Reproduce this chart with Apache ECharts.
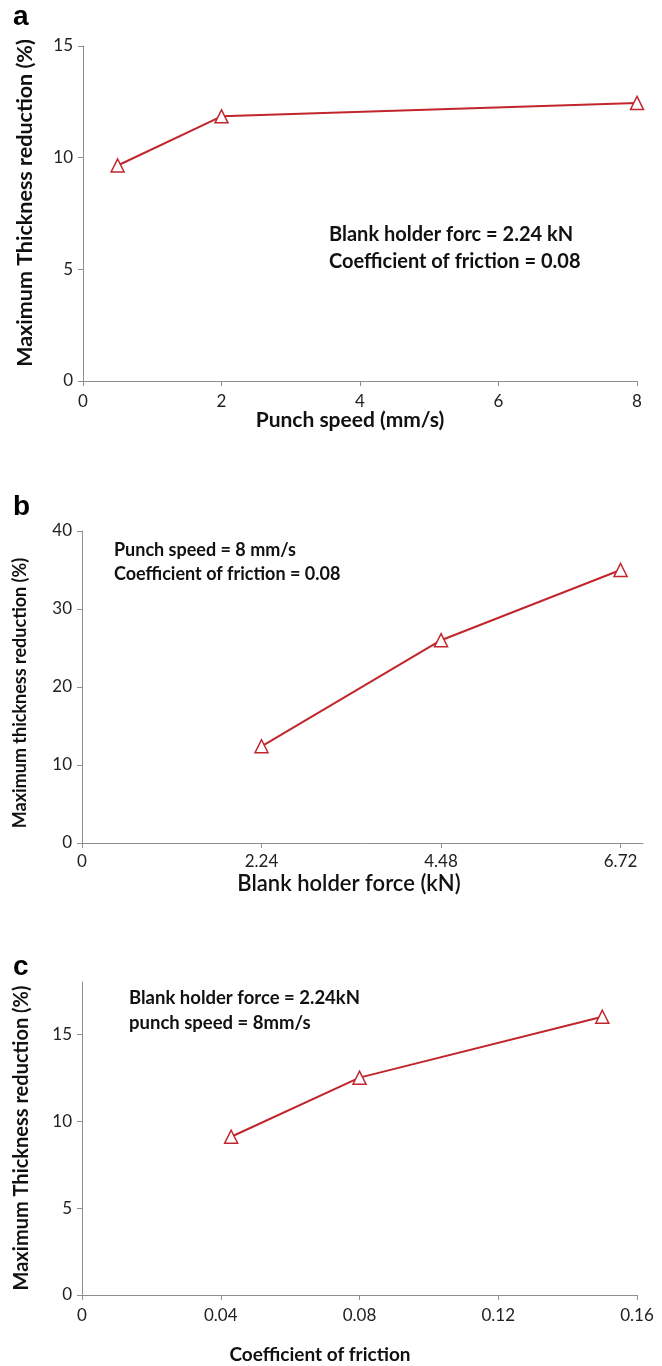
<!DOCTYPE html>
<html>
<head>
<meta charset="utf-8">
<script src="https://cdn.jsdelivr.net/npm/echarts@6/dist/echarts.min.js"></script>
<style>
  html, body { margin: 0; padding: 0; background: #fff; }
  #chart { width: 662px; height: 1366px; }
</style>
</head>
<body>
<div id="chart"></div>
<script>
// panel a: punch speed
const speedX = [0.5, 2, 8];
const speedY = [9.65, 11.85, 12.45];
// panel b: blank holder force
const forceX = [2.24, 4.48, 6.72];
const forceY = [12.4, 26, 35];
const forceTicks = [0, 2.24, 4.48, 6.72];
// panel c: coefficient of friction
const frictionX = [0.043, 0.08, 0.15];
const frictionY = [9.1, 12.5, 16];
const frictionYTicks = [0, 5, 10, 15];

const RED = '#c0262c';
const AXIS = '#8f8f8f';
const FONT = 'Lato, "Open Sans", sans-serif';

const pairs = (xs, ys) => xs.map((x, i) => [x, ys[i]]);

const axisBase = {
  type: 'value',
  axisLine: { show: true, lineStyle: { color: AXIS, width: 1 } },
  axisTick: { show: true, length: 5, lineStyle: { color: AXIS } },
  splitLine: { show: false },
  axisLabel: { color: '#222', fontSize: 17, fontFamily: FONT }
};

const xAx = (extra) => Object.assign({}, axisBase, extra,
  { axisLabel: Object.assign({}, axisBase.axisLabel, { margin: 12 }, extra.axisLabel || {}) });
const yAx = (extra) => Object.assign({}, axisBase, extra,
  { axisLabel: Object.assign({}, axisBase.axisLabel, { margin: 10 }, extra.axisLabel || {}) });

const lineSeries = (idx, data) => ({
  type: 'line',
  xAxisIndex: idx,
  yAxisIndex: idx,
  data: data,
  symbol: 'triangle',
  symbolSize: 13,
  lineStyle: { color: RED, width: 2 },
  itemStyle: { color: '#fff', borderColor: RED, borderWidth: 1.5 },
  animation: false
});

const txt = (x, y, text, size, opts) => Object.assign({
  type: 'text',
  x: x,
  y: y,
  style: Object.assign({
    text: text,
    fill: '#111',
    font: 'bold ' + size + 'px ' + FONT,
    textAlign: 'left',
    textVerticalAlign: 'middle'
  }, (opts && opts.style) || {})
}, opts ? { rotation: opts.rotation || 0 } : {});

const LETTER = 'bold 28px Arial, "Liberation Sans", sans-serif';

const chart = echarts.init(document.getElementById('chart'), null, { renderer: 'canvas' });

chart.setOption({
  backgroundColor: '#fff',
  animation: false,
  grid: [
    { left: 83, top: 46, width: 554, height: 335 },
    { left: 82, top: 531, width: 561, height: 312 },
    { left: 82, top: 982, width: 555, height: 313 }
  ],
  xAxis: [
    xAx({ gridIndex: 0, min: 0, max: 8, interval: 2 }),
    xAx({ gridIndex: 1, min: 0, max: 7,
      axisTick: { show: true, length: 5, lineStyle: { color: AXIS }, customValues: forceTicks },
      axisLabel: { customValues: forceTicks, margin: 10 } }),
    xAx({ gridIndex: 2, min: 0, max: 0.16, interval: 0.04 })
  ],
  yAxis: [
    yAx({ gridIndex: 0, min: 0, max: 15, interval: 5 }),
    yAx({ gridIndex: 1, min: 0, max: 40, interval: 10 }),
    yAx({ gridIndex: 2, min: 0, max: 18,
      axisTick: { show: true, length: 5, lineStyle: { color: AXIS }, customValues: frictionYTicks },
      axisLabel: { customValues: frictionYTicks } })
  ],
  series: [
    lineSeries(0, pairs(speedX, speedY)),
    lineSeries(1, pairs(forceX, forceY)),
    lineSeries(2, pairs(frictionX, frictionY))
  ],
  graphic: [
    // panel letters
    txt(13, 17, 'a', 28, { style: { font: LETTER, fill: '#000' } }),
    txt(13, 507, 'b', 28, { style: { font: LETTER, fill: '#000' } }),
    txt(13, 967, 'c', 28, { style: { font: LETTER, fill: '#000' } }),

    // y axis titles
    txt(25, 203, 'Maximum Thickness reduction (%)', 21.5, { rotation: Math.PI / 2, style: { textAlign: 'center' } }),
    txt(20, 693, 'Maximum thickness reduction (%)', 18, { rotation: Math.PI / 2, style: { textAlign: 'center' } }),
    txt(22, 1138, 'Maximum Thickness reduction (%)', 20, { rotation: Math.PI / 2, style: { textAlign: 'center' } }),

    // x axis titles
    txt(350, 420, 'Punch speed (mm/s)', 21, { style: { textAlign: 'center' } }),
    txt(349, 884, 'Blank holder force (kN)', 22, { style: { textAlign: 'center', font: '600 22px ' + FONT } }),
    txt(320, 1355, 'Coefficient of friction', 19, { style: { textAlign: 'center' } }),

    // annotations
    txt(329, 235, 'Blank holder forc = 2.24 kN', 20),
    txt(329, 262, 'Coefficient of friction = 0.08', 20),
    txt(114, 550, 'Punch speed = 8 mm/s', 18),
    txt(114, 574, 'Coefficient of friction = 0.08', 18),
    txt(129, 998, 'Blank holder force = 2.24kN', 18.5),
    txt(129, 1023, 'punch speed = 8mm/s', 18.5)
  ]
});

window.addEventListener('resize', () => chart.resize());
</script>
</body>
</html>
